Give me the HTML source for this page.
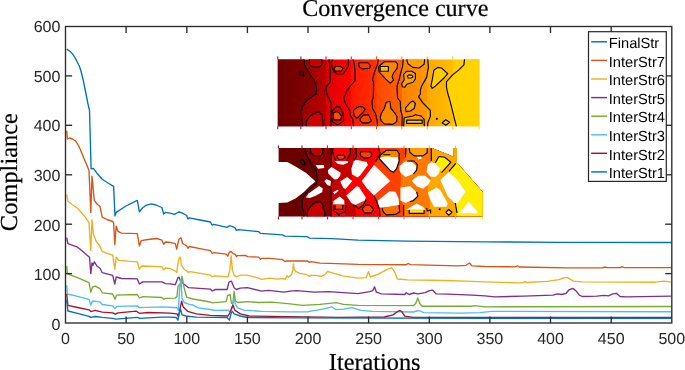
<!DOCTYPE html>
<html lang="en">
<head>
<meta charset="utf-8">
<title>Convergence curve</title>
<style>
html,body{margin:0;padding:0;background:#fff;}
body{width:685px;height:370px;overflow:hidden;position:relative;}
svg{position:absolute;left:0;top:0;display:block;will-change:transform;text-rendering:geometricPrecision;}
.tk{font-family:"Liberation Sans",Arial,Helvetica,sans-serif;font-size:16px;fill:#262626;}
.lg{font-family:"Liberation Sans",Arial,Helvetica,sans-serif;font-size:14.65px;fill:#000;}
.ti{font-family:"Liberation Serif","Times New Roman",Times,serif;font-size:24.1px;fill:#000;stroke:#000;stroke-width:0.2;}
.cv{fill:none;stroke-linejoin:round;stroke-linecap:butt;}
.ct{fill:none;stroke:#000;stroke-width:1.15;stroke-linejoin:round;}
</style>
</head>
<body>
<svg width="685" height="370" viewBox="0 0 685 370">
<rect x="0" y="0" width="685" height="370" fill="#ffffff"/>
<defs><linearGradient id="g1" x1="0" y1="0" x2="1" y2="0">
<stop offset="0.000" stop-color="#6e0000"/>
<stop offset="0.061" stop-color="#740000"/>
<stop offset="0.110" stop-color="#820000"/>
<stop offset="0.130" stop-color="#9e0000"/>
<stop offset="0.189" stop-color="#ac0000"/>
<stop offset="0.239" stop-color="#ba0000"/>
<stop offset="0.240" stop-color="#d80000"/>
<stop offset="0.299" stop-color="#f00000"/>
<stop offset="0.364" stop-color="#ff0000"/>
<stop offset="0.365" stop-color="#ff1400"/>
<stop offset="0.489" stop-color="#ff3400"/>
<stop offset="0.490" stop-color="#ff4600"/>
<stop offset="0.615" stop-color="#ff6400"/>
<stop offset="0.616" stop-color="#ff8000"/>
<stop offset="0.741" stop-color="#ff9800"/>
<stop offset="0.742" stop-color="#ffa800"/>
<stop offset="0.868" stop-color="#ffbe00"/>
<stop offset="0.869" stop-color="#ffcc00"/>
<stop offset="0.934" stop-color="#ffd200"/>
<stop offset="1.000" stop-color="#ffd500"/>
</linearGradient>
<linearGradient id="g1v" x1="0" y1="0" x2="1" y2="1"><stop offset="0" stop-color="#ffffff" stop-opacity="0.05"/><stop offset="1" stop-color="#000000" stop-opacity="0.06"/></linearGradient>
</defs>
<rect x="277.8" y="59.5" width="201.6" height="66.8" fill="url(#g1)"/>
<defs><linearGradient id="g1a" gradientUnits="userSpaceOnUse" x1="277.8" y1="0" x2="318" y2="0"><stop offset="0" stop-color="#6e0000"/><stop offset="0.5" stop-color="#7a0000"/><stop offset="1" stop-color="#880000"/></linearGradient></defs>
<polygon fill="url(#g1a)" points="277.8,59.5 304.0,59.5 304.7,65.3 307.4,70.1 310.7,75.5 313.9,79.9 316.1,84.2 316.6,90.7 316.0,94.1 310.9,97.2 305.8,101.3 302.7,106.4 301.2,111.6 301.7,119.8 302.7,126.3 277.8,126.3"/>
<polygon fill="#ffd200" points="464.5,59.3 463.9,64.9 458.9,69.9 452.7,74.9 446.5,81.7 446.5,87.3 447.7,93.0 450.2,101.7 452.7,111.6 454.5,119.1 456.4,126.3 479.4,126.3 479.4,59.3"/>
<line x1="277.8" y1="56.4" x2="277.8" y2="59.5" stroke="#a00000" stroke-width="1"/>
<line x1="277.8" y1="126.1" x2="277.8" y2="129.2" stroke="#a00000" stroke-width="1"/>
<line x1="300.9" y1="56.4" x2="300.9" y2="59.5" stroke="#b00000" stroke-width="1"/>
<line x1="300.9" y1="126.1" x2="300.9" y2="129.2" stroke="#b00000" stroke-width="1"/>
<line x1="326.0" y1="56.4" x2="326.0" y2="59.5" stroke="#d00000" stroke-width="1"/>
<line x1="326.0" y1="126.1" x2="326.0" y2="129.2" stroke="#d00000" stroke-width="1"/>
<line x1="351.3" y1="56.4" x2="351.3" y2="59.5" stroke="#ff1000" stroke-width="1"/>
<line x1="351.3" y1="126.1" x2="351.3" y2="129.2" stroke="#ff1000" stroke-width="1"/>
<line x1="376.5" y1="56.4" x2="376.5" y2="59.5" stroke="#ff4800" stroke-width="1"/>
<line x1="376.5" y1="126.1" x2="376.5" y2="129.2" stroke="#ff4800" stroke-width="1"/>
<line x1="401.8" y1="56.4" x2="401.8" y2="59.5" stroke="#ff8000" stroke-width="1"/>
<line x1="401.8" y1="126.1" x2="401.8" y2="129.2" stroke="#ff8000" stroke-width="1"/>
<line x1="427.2" y1="56.4" x2="427.2" y2="59.5" stroke="#ffa800" stroke-width="1"/>
<line x1="427.2" y1="126.1" x2="427.2" y2="129.2" stroke="#ffa800" stroke-width="1"/>
<line x1="452.8" y1="56.4" x2="452.8" y2="59.5" stroke="#ffc800" stroke-width="1"/>
<line x1="452.8" y1="126.1" x2="452.8" y2="129.2" stroke="#ffc800" stroke-width="1"/>
<line x1="479.0" y1="126.1" x2="479.0" y2="129.2" stroke="#ffd800" stroke-width="1"/>
<polyline class="ct" style="fill:#c80000" points="309.4,59.3 309.6,65.3 312.9,67.1 319.3,67.1 321.7,64.7 322.0,59.3"/>
<polyline class="ct" style="fill:#cc0000" points="306.3,126.3 306.3,120.8 309.9,116.2 314.0,113.6 319.1,111.6 321.7,114.6 322.7,120.8 323.2,126.3"/>
<polyline class="ct" style="fill:none" points="332.3,59.3 331.2,63.7 332.3,68.0 334.0,71.8 337.2,74.0 343.2,74.0 346.3,69.4 348.3,65.3 348.3,59.3"/>
<polyline class="ct" style="fill:#ffa000" points="406.7,59.3 407.9,63.7 412.9,67.4 419.1,68.0 424.1,64.3 424.7,59.3"/>
<polyline class="ct" style="fill:#ffa000" points="403.6,126.3 404.2,117.8 412.9,116.0 415.4,114.7 421.0,116.0 424.1,119.1 424.3,126.3"/>
<polygon class="ct" style="fill:#ff4800" points="334.3,67.5 336.0,66.5 340.1,66.5 343.2,68.3 341.2,70.9 336.0,71.2 334.3,70.0"/>
<polygon class="ct" style="fill:#ff5000" points="333.5,113.1 336.6,111.6 339.2,113.1 341.5,116.2 340.7,119.8 334.0,119.8 333.3,115.7"/>
<polygon class="ct" style="fill:#ff3c00" points="358.6,63.2 359.6,62.7 367.8,62.7 370.4,65.3 369.4,68.3 362.7,68.9 359.1,66.8"/>
<polygon class="ct" style="fill:#ff3800" points="354.0,109.5 359.1,106.4 362.7,106.9 365.3,109.5 362.7,112.6 357.1,118.2 354.0,115.7 353.5,111.6"/>
<polygon class="ct" style="fill:#ff4400" points="360.1,118.7 363.7,115.1 368.4,114.6 370.4,118.7 371.4,120.8 368.9,122.8 362.2,122.8 360.1,120.3"/>
<polygon class="ct" style="fill:#ff8400" points="379.1,66.3 384.3,61.7 395.6,61.7 397.6,64.2 397.1,68.3 393.5,73.0 392.0,76.6 393.5,80.1 390.4,83.2 386.3,79.6 379.1,71.9 378.6,68.3"/>
<polygon class="ct" style="fill:#ffc400" points="380.2,66.5 388.4,66.5 388.4,71.2 380.2,71.2"/>
<polygon class="ct" style="fill:#ff8400" points="380.2,117.7 381.2,113.6 384.3,108.5 386.3,102.3 389.9,101.3 390.9,108.5 394.5,112.6 397.1,116.7 396.6,121.8 392.5,124.4 384.3,123.9 381.2,120.8"/>
<polygon class="ct" style="fill:#ffa200" points="402.3,86.7 401.7,83.6 404.2,79.9 403.6,74.3 406.7,71.2 411.7,71.2 415.4,73.6 415.4,79.2 412.9,82.3 406.7,84.2 404.8,87.3"/>
<polygon class="ct" style="fill:#ffd400" points="407.3,76.0 409.0,74.9 412.0,75.2 412.9,77.0 411.0,78.0 408.2,78.0"/>
<polygon class="ct" style="fill:#ffa200" points="405.5,107.9 410.4,102.3 412.9,101.0 415.4,103.5 414.2,108.5 410.4,111.0 406.1,111.6"/>
<polygon class="ct" style="fill:#ffd000" points="406.7,120.1 422.2,120.1 422.2,123.4 406.7,123.4"/>
<polygon class="ct" style="fill:#ffcc00" points="430.9,86.1 432.2,79.9 434.0,69.9 437.8,67.4 441.5,68.0 447.7,73.6 444.0,78.0 435.3,86.1 432.2,88.3"/>
<polygon class="ct" style="fill:#ffd000" points="442.1,122.8 445.8,119.7 449.6,122.2 445.8,125.3"/>
<polygon class="ct" style="fill:none" points="299.3,72.3 301.0,71.2 302.6,72.3 303.7,74.5 304.2,75.5 302.0,75.8 300.4,75.0 299.3,73.4"/>
<polygon class="ct" style="fill:none" points="332.5,110.5 336.6,106.4 339.7,106.9 342.7,112.6 343.8,120.8 337.6,124.9 332.5,121.8 331.4,115.7"/>
<polyline class="ct" points="304.0,59.3 304.7,65.3 307.4,70.1 310.7,75.5 313.9,79.9 316.1,84.2 316.6,90.7 316.0,94.1 310.9,97.2 305.8,101.3 302.7,106.4 301.2,111.6 301.7,119.8 302.7,126.3"/>
<polyline class="ct" points="329.1,59.3 330.2,71.2 330.2,82.0 326.4,86.4 326.0,90.0 326.8,94.1 329.4,99.2 331.2,103.3 331.2,110.5 330.9,126.3"/>
<polyline class="ct" points="353.0,59.3 354.0,63.2 355.0,70.4 355.0,80.7 350.4,85.8 346.8,90.9 343.7,98.2 345.3,103.3 349.4,109.5 350.4,115.7 353.0,119.8 353.5,126.3"/>
<polyline class="ct" points="378.1,59.3 377.6,64.2 375.5,69.4 373.5,75.5 372.5,80.1 373.5,81.7 373.5,90.0 373.2,98.2 372.0,100.3 372.5,108.5 375.5,113.6 377.1,119.8 377.6,126.3"/>
<polyline class="ct" points="403.2,59.3 402.6,66.3 400.7,73.0 399.1,79.6 397.1,85.8 397.1,90.0 397.6,98.2 400.2,101.3 400.7,110.5 402.2,115.7 402.0,126.3"/>
<polyline class="ct" points="427.8,59.3 428.4,67.4 426.6,77.4 421.6,86.1 420.4,90.0 420.4,94.2 418.5,96.7 422.9,102.9 430.3,110.4 430.3,116.6 427.8,122.8 427.6,126.3"/>
<polyline class="ct" points="464.5,59.3 463.9,64.9 458.9,69.9 452.7,74.9 446.5,81.7 446.5,87.3 447.7,93.0 450.2,101.7 452.7,111.6 454.5,119.1 456.4,126.3"/>
<circle cx="436.8" cy="118.8" r="1.1" fill="#000"/>
<defs><clipPath id="c2"><polygon points="278.6,148.1 431.6,148.1 453.5,156.8 453.3,148.1 457.0,148.1 457.0,162.7 482.6,191.8 482.6,216.6 278.6,216.6 278.6,203.1 287.3,202.6 295.5,198.4 303.7,192.3 309.9,186.1 315.5,181.5 314.0,180.0 305.8,172.8 295.5,166.6 287.3,162.0 278.6,162.0"/></clipPath></defs>
<g clip-path="url(#c2)">
<rect x="278" y="148" width="206" height="69" fill="#6b0000"/>
<polygon fill="#8c0000" points="305.3,148.1 305.8,153.3 308.9,159.4 313.0,165.6 316.1,170.7 317.1,176.9 317.1,181.0 316.1,184.1 310.9,188.2 305.8,193.3 302.2,199.5 302.2,206.7 303.7,211.8 303.7,216.6 484.0,216.6 484.0,148.1"/>
<polygon fill="#c20000" points="310.4,148.1 310.7,152.8 314.0,155.8 320.2,156.1 322.7,153.3 323.0,148.1"/>
<polygon fill="#c80000" points="307.3,216.6 307.6,210.3 310.9,206.1 315.0,202.6 320.2,201.5 322.7,204.6 323.2,208.7 324.8,211.8 324.8,216.6"/>
<polygon fill="#c40000" points="331.2,148.1 331.2,166.6 328.0,170.0 328.4,174.0 334.0,180.0 331.0,186.0 331.2,191.0 331.2,216.6 484.0,216.6 484.0,148.1"/>
<polygon fill="#ff0000" points="356.0,148.1 356.6,156.3 354.0,160.4 351.4,168.7 351.9,174.3 352.0,181.0 345.3,188.7 346.3,195.4 351.4,203.1 355.5,205.1 355.5,216.6 484.0,216.6 484.0,148.1"/>
<polygon fill="#ff0000" points="331.2,148.1 348.9,148.1 350.4,153.3 348.9,156.3 347.3,161.0 334.5,161.0 331.2,163.0"/>
<polygon fill="#ff0000" points="331.2,199.0 333.5,201.0 333.0,204.3 344.5,204.6 345.3,204.6 345.3,216.6 331.2,216.6"/>
<polygon fill="#ff4000" points="378.6,148.1 380.2,153.3 376.0,161.5 374.0,165.1 383.0,173.8 390.4,181.0 383.0,188.5 374.0,195.8 377.0,202.0 379.5,209.0 380.0,216.6 484.0,216.6 484.0,148.1"/>
<polygon fill="#ff7800" points="406.0,148.1 405.5,157.2 401.0,164.0 399.5,170.0 401.0,176.0 400.5,187.5 400.5,200.5 403.6,204.9 403.6,216.6 484.0,216.6 484.0,148.1"/>
<polygon fill="#ffa800" points="431.3,148.1 431.3,160.9 427.8,164.6 426.6,172.1 430.3,176.4 430.9,180.8 427.8,185.0 427.8,192.4 430.3,199.9 430.0,206.0 428.0,216.6 484.0,216.6 484.0,148.1"/>
<polygon fill="#ffee00" points="457.0,162.7 455.8,163.4 449.0,171.6 457.7,180.0 465.7,191.8 457.7,203.0 455.2,203.0 456.4,209.2 457.0,216.6 484.0,216.6 484.0,190.0 482.6,191.8"/>
<polygon fill="#ff4000" points="336.5,156.3 338.0,155.3 343.7,155.3 345.3,156.9 342.7,159.4 339.1,159.4"/>
<polygon fill="#ff4000" points="335.0,205.1 342.7,205.1 342.7,209.2 335.0,209.2"/>
<polygon fill="#ff4000" points="360.1,152.8 361.7,151.7 369.9,151.7 371.9,154.3 370.4,157.4 364.8,158.2 360.7,155.8"/>
<polygon fill="#ff3000" points="356.0,206.1 364.8,201.0 366.3,200.0 362.7,205.6 358.6,208.2"/>
<polygon fill="#ff4000" points="362.2,208.7 365.8,205.1 369.9,205.1 373.5,209.7 371.4,212.8 364.3,212.8"/>
<polygon fill="#ff8000" points="380.2,155.3 386.3,150.2 396.6,150.2 399.1,153.3 399.1,161.0 397.6,156.9 381.7,156.9"/>
<polygon fill="#ffd000" points="383.2,154.8 390.4,154.8 390.4,156.9 383.2,156.9"/>
<polygon fill="#ff7000" points="382.2,208.2 388.4,206.7 399.1,205.1 399.7,211.8 395.6,214.4 386.3,214.9 383.2,211.8"/>
<polygon fill="#ffa000" points="409.2,148.1 409.8,152.2 414.2,155.9 422.9,155.9 427.2,152.8 427.2,148.1"/>
<polygon fill="#ffee00" points="409.2,210.2 424.1,210.2 424.1,213.3 409.2,213.3"/>
<polygon fill="#ffee00" points="435.3,162.7 439.0,156.5 444.6,157.2 450.8,162.1 447.7,165.9 441.5,172.7 439.6,167.7"/>
<polygon fill="#ffee00" points="445.7,212.3 448.7,209.5 452.0,212.3 448.7,215.2"/>
<polygon fill="#ffffff" points="315.5,165.1 323.8,165.1 324.3,168.1 318.1,168.7"/>
<polygon fill="#ffffff" points="327.9,170.2 331.5,167.1 340.7,172.8 340.1,175.8 337.6,178.9 334.5,179.4 328.4,173.8"/>
<polygon fill="#ffffff" points="305.8,197.4 308.9,193.3 319.1,186.1 322.7,188.2 322.2,192.3 316.1,195.4 309.9,197.9"/>
<polygon fill="#ffffff" points="324.3,181.0 326.5,179.3 331.0,181.0 330.4,186.1 327.3,185.1"/>
<polygon fill="#ffffff" points="333.0,192.3 337.6,189.7 338.6,190.8 334.5,194.3"/>
<polygon fill="#ffffff" points="334.5,161.0 347.3,161.0 348.3,162.5 343.2,164.8 338.0,164.0"/>
<polygon fill="#ffffff" points="333.0,204.3 333.5,201.0 339.7,196.4 344.2,200.3 344.5,204.6"/>
<polygon fill="#ffffff" points="354.0,160.4 357.1,159.9 366.8,162.0 367.8,165.1 360.7,174.8 357.6,177.4 351.9,174.3 351.4,168.7"/>
<polygon fill="#ffffff" points="347.0,176.9 352.3,181.0 345.5,189.0 343.4,188.0 340.2,181.5"/>
<polygon fill="#ffffff" points="374.0,165.1 383.2,173.8 390.4,181.0 381.2,189.2 374.0,195.6 366.8,188.2 361.7,181.0"/>
<polygon fill="#ffffff" points="379.1,158.4 381.7,156.9 397.6,156.9 399.1,161.0 396.6,168.7 393.5,172.3 390.4,170.7 383.2,163.0"/>
<polygon fill="#ffffff" points="346.3,195.4 357.1,186.1 359.1,187.2 365.8,197.4 364.8,200.5 355.5,205.1 351.4,203.1"/>
<polygon fill="#ffffff" points="377.1,203.1 378.1,200.5 389.4,191.3 395.6,191.8 398.6,198.4 399.1,205.1 388.4,206.7 379.1,207.7"/>
<polygon fill="#ffffff" points="399.5,166.0 405.5,161.5 411.7,162.1 416.6,165.9 416.6,170.2 412.9,173.9 405.5,177.0 401.0,173.3 399.5,170.0"/>
<polygon fill="#ffffff" points="416.6,156.5 421.0,155.9 421.6,158.4 418.5,159.6"/>
<polygon fill="#ffffff" points="427.8,164.6 431.6,162.1 435.3,163.4 440.3,168.3 439.0,173.3 435.3,177.0 430.3,176.4 426.6,172.1"/>
<polygon fill="#ffffff" points="411.7,180.8 417.9,175.8 425.3,175.8 430.9,180.8 427.8,185.0 422.9,188.7 416.6,186.2"/>
<polygon fill="#ffffff" points="449.0,172.0 457.7,180.0 465.7,191.8 457.7,203.0 454.5,203.0 447.7,196.2 440.3,180.0"/>
<polygon fill="#ffffff" points="427.8,192.4 436.5,187.5 440.3,189.9 447.7,203.6 446.5,206.7 434.0,206.7 430.3,199.9"/>
<polygon fill="#ffffff" points="400.5,187.5 410.4,186.2 416.6,192.4 417.3,196.2 412.9,199.9 405.5,203.0 400.5,200.5"/>
<polygon fill="#ffffff" points="406.1,209.8 416.6,203.6 422.9,206.7 425.3,209.8"/>
<polygon fill="#ffffff" points="468.8,201.7 477.5,211.7 477.5,213.3 458.9,213.2"/>
</g>
<line x1="278.4" y1="145.4" x2="278.4" y2="148.3" stroke="#8b0000" stroke-width="1"/>
<line x1="278.4" y1="216.4" x2="278.4" y2="219.4" stroke="#8b0000" stroke-width="1"/>
<line x1="302.0" y1="145.4" x2="302.0" y2="148.3" stroke="#a00000" stroke-width="1"/>
<line x1="302.0" y1="216.4" x2="302.0" y2="219.4" stroke="#a00000" stroke-width="1"/>
<line x1="327.4" y1="145.4" x2="327.4" y2="148.3" stroke="#d00000" stroke-width="1"/>
<line x1="327.4" y1="216.4" x2="327.4" y2="219.4" stroke="#d00000" stroke-width="1"/>
<line x1="353.0" y1="145.4" x2="353.0" y2="148.3" stroke="#ff1000" stroke-width="1"/>
<line x1="353.0" y1="216.4" x2="353.0" y2="219.4" stroke="#ff1000" stroke-width="1"/>
<line x1="378.5" y1="145.4" x2="378.5" y2="148.3" stroke="#ff4000" stroke-width="1"/>
<line x1="378.5" y1="216.4" x2="378.5" y2="219.4" stroke="#ff4000" stroke-width="1"/>
<line x1="404.0" y1="145.4" x2="404.0" y2="148.3" stroke="#ff7800" stroke-width="1"/>
<line x1="404.0" y1="216.4" x2="404.0" y2="219.4" stroke="#ff7800" stroke-width="1"/>
<line x1="429.7" y1="145.4" x2="429.7" y2="148.3" stroke="#ffa000" stroke-width="1"/>
<line x1="429.7" y1="216.4" x2="429.7" y2="219.4" stroke="#ffa000" stroke-width="1"/>
<line x1="455.5" y1="145.4" x2="455.5" y2="148.3" stroke="#ffd000" stroke-width="1"/>
<line x1="455.5" y1="216.4" x2="455.5" y2="219.4" stroke="#ffd000" stroke-width="1"/>
<line x1="482.3" y1="216.4" x2="482.3" y2="219.4" stroke="#ffe800" stroke-width="1"/>
<polyline class="ct" points="305.3,148.1 305.8,153.3 308.9,159.4 313.0,165.6 316.1,170.7 317.1,176.9 317.1,181.0 316.1,184.1 310.9,188.2 305.8,193.3 302.2,199.5 302.2,206.7 303.7,211.8 303.7,216.6"/>
<polyline class="ct" points="310.4,148.1 310.7,152.8 314.0,155.8 320.2,156.1 322.7,153.3 323.0,148.1"/>
<polyline class="ct" points="300.1,161.0 302.2,159.9 304.3,161.5 305.3,164.0 303.7,165.1 301.2,163.5 300.1,161.0"/>
<polyline class="ct" points="307.3,216.4 307.6,210.3 310.9,206.1 315.0,202.6 320.2,201.5 322.7,204.6 323.2,208.7 324.8,211.8 324.8,216.4"/>
<polyline class="ct" points="331.2,148.1 331.2,166.6"/>
<polyline class="ct" points="331.2,187.0 331.2,216.4"/>
<polyline class="ct" points="336.5,156.3 338.0,155.3 343.7,155.3 345.3,156.9 342.7,159.4 339.1,159.4 336.5,156.3"/>
<polyline class="ct" points="333.0,148.1 332.5,152.0 334.0,157.0 336.0,160.5"/>
<polyline class="ct" points="350.4,148.1 350.4,153.3 348.9,156.3 346.5,160.5"/>
<polyline class="ct" points="356.0,148.1 356.6,156.3 354.0,160.4"/>
<polyline class="ct" points="333.5,205.0 333.5,211.0 338.0,213.8 339.0,215.5 340.1,213.6 345.3,211.8 345.8,205.0"/>
<polyline class="ct" points="335.0,205.1 335.0,209.2 342.7,209.2 342.7,205.1"/>
<polyline class="ct" points="360.1,152.8 361.7,151.7 369.9,151.7 371.9,154.3 370.4,157.4 364.8,158.2 360.7,155.8 360.1,152.8"/>
<polyline class="ct" points="353.0,205.5 356.0,206.1 358.6,208.2 362.7,205.6 366.3,200.0"/>
<polyline class="ct" points="362.2,208.7 365.8,205.1 369.9,205.1 373.5,209.7 371.4,212.8 364.3,212.8 362.2,208.7"/>
<polyline class="ct" points="378.6,148.1 380.2,153.3 376.0,161.5"/>
<polyline class="ct" points="374.0,196.0 377.0,202.0 379.5,209.0 380.0,216.4"/>
<polyline class="ct" points="379.1,158.4 380.2,155.3 386.3,150.2 396.6,150.2 399.1,153.3 399.1,161.0 396.6,168.7 393.5,172.3 390.4,170.7 383.2,163.0 379.1,158.4"/>
<polyline class="ct" points="383.2,154.8 390.4,154.8"/>
<polyline class="ct" points="382.2,208.2 383.2,211.8 386.3,214.9 395.6,214.4 399.7,211.8 399.1,205.1"/>
<polyline class="ct" points="406.0,148.1 405.5,157.2"/>
<polyline class="ct" points="403.6,204.9 403.6,216.0"/>
<polyline class="ct" points="409.2,148.2 409.8,152.2 414.2,155.9 422.9,155.9 427.2,152.8 427.2,148.2"/>
<polyline class="ct" points="407.3,161.0 414.2,161.0 417.3,164.7 416.6,170.2 413.5,173.9"/>
<polyline class="ct" points="416.6,191.8 417.9,196.2 413.5,200.5 409.8,201.7"/>
<polyline class="ct" points="431.3,148.2 431.3,160.9"/>
<polyline class="ct" points="426.8,208.0 427.2,211.0 430.6,210.0 430.6,213.6"/>
<polyline class="ct" points="409.2,210.0 409.2,213.3 424.1,213.3 424.1,210.0"/>
<polyline class="ct" points="435.3,162.7 439.0,156.5 444.6,157.2 450.8,162.1 447.7,165.9 441.5,172.7"/>
<polyline class="ct" points="455.8,163.4 449.0,171.4"/>
<polyline class="ct" points="445.7,212.3 448.7,209.5 452.0,212.3 448.7,215.2 445.7,212.3"/>
<polyline class="ct" points="455.2,203.0 456.4,209.2 457.0,213.0"/>
<circle cx="439.6" cy="209.2" r="1.0" fill="#000"/>
<g class="cv" stroke-width="1.35">
<polyline stroke="#0072BD" points="66.7,49.2 68.5,50.3 70.5,51.7 72.5,53.9 74.5,56.8 76.3,60.1 78.0,63.5 79.3,66.0 80.5,69.5 82.0,75.0 83.5,81.5 85.0,89.0 86.5,96.5 88.0,104.0 89.5,110.5 90.2,135.0 91.1,168.8 93.4,168.4 96.9,173.2 102.2,179.3 108.0,183.0 113.6,186.4 115.0,215.9 116.2,212.4 126.0,206.0 137.3,200.4 139.4,211.8 142.5,208.0 146.1,205.3 151.4,203.9 156.0,205.0 161.9,207.5 163.7,214.1 165.4,212.4 170.0,213.2 174.4,214.3 178.8,212.0 182.0,212.8 186.7,215.5 187.9,219.0 189.3,217.8 200.0,220.0 210.4,222.0 212.2,225.1 213.9,224.3 227.1,227.3 229.4,225.7 232.0,226.3 235.0,227.8 236.4,230.4 238.5,229.7 258.8,231.7 260.5,233.4 282.5,234.8 285.1,236.2 306.9,236.7 309.8,238.1 331.7,238.7 358.0,240.2 407.6,241.1 485.0,241.9 560.0,242.3 671.5,242.5"/>
<polyline stroke="#D95319" points="66.7,130.8 67.4,139.0 69.7,138.0 72.5,139.0 75.8,141.3 78.5,145.5 81.0,151.0 83.0,156.0 84.6,160.0 86.4,164.0 89.0,170.5 90.8,212.4 92.0,176.2 94.3,200.4 97.0,204.0 100.0,206.6 102.2,217.1 107.0,219.5 112.7,221.5 113.6,222.6 114.8,244.6 116.2,226.2 118.0,231.4 121.5,233.2 137.3,233.7 139.4,246.0 141.2,240.7 148.0,239.5 156.7,238.5 161.9,240.2 163.7,244.3 165.4,242.0 170.0,242.4 175.3,243.7 176.7,249.2 178.8,239.3 180.9,237.7 182.7,243.5 186.7,246.0 187.9,248.2 189.3,246.5 200.0,248.6 210.4,250.7 212.2,253.5 213.9,252.7 226.1,254.2 227.7,256.2 229.2,252.3 230.9,251.4 233.1,253.6 235.3,254.4 236.5,256.6 237.5,255.6 245.4,255.3 247.6,256.6 258.5,257.1 260.5,259.3 261.6,258.4 269.9,258.4 280.0,259.4 282.3,259.4 284.9,261.6 286.6,261.0 307.7,261.0 309.4,262.4 311.2,261.6 319.9,263.1 330.0,263.3 358.0,264.4 406.2,264.7 408.2,263.5 410.5,264.7 457.3,265.9 466.0,265.3 469.5,263.0 471.9,265.9 485.0,266.5 515.0,266.8 517.4,265.9 519.4,267.0 567.6,267.9 602.6,267.9 605.0,267.0 607.0,267.6 620.1,267.6 622.2,266.8 624.5,267.6 671.5,267.6"/>
<polyline stroke="#EDB120" points="66.7,194.3 67.9,201.3 72.0,204.5 77.6,208.3 84.6,216.2 89.0,222.6 90.8,250.8 92.0,219.8 93.4,234.0 96.0,241.0 100.0,246.4 102.2,251.3 107.0,253.3 112.7,255.0 114.8,269.2 116.2,257.3 118.9,260.4 128.0,261.2 137.3,261.8 139.4,269.2 141.7,266.0 161.9,266.6 163.7,270.0 165.4,268.0 170.0,268.4 175.3,271.0 176.7,272.4 178.8,258.7 180.2,257.0 181.4,264.9 184.1,269.3 186.7,271.0 188.5,272.4 190.2,271.6 210.4,275.1 212.2,276.8 214.8,275.8 228.0,276.8 229.8,270.1 231.2,255.7 232.4,270.1 234.1,275.1 236.4,276.8 240.3,275.1 247.3,275.1 258.8,278.1 261.4,279.3 270.0,278.2 277.0,279.1 283.1,278.5 285.3,279.3 287.1,275.6 288.4,277.3 291.5,274.7 292.8,269.9 293.4,263.8 294.1,269.0 295.4,271.2 299.8,273.4 306.8,274.7 309.4,276.5 310.7,275.3 316.4,275.3 321.2,276.5 325.2,274.3 327.4,271.5 330.0,272.1 333.2,273.2 343.4,276.1 358.0,278.1 366.2,277.6 368.5,271.7 370.3,277.0 378.4,274.1 387.2,269.4 391.6,267.9 394.5,271.7 397.4,279.0 407.6,279.9 445.6,280.5 471.9,281.4 485.0,281.9 518.0,282.8 523.8,282.5 525.3,281.4 526.7,282.5 547.2,281.4 558.8,279.6 564.7,277.6 567.6,277.6 573.4,281.1 582.2,281.9 655.2,282.2 663.9,281.1 671.5,282.2"/>
<polyline stroke="#7E2F8E" points="66.7,237.6 67.9,243.7 77.6,247.2 82.8,251.6 89.5,257.3 90.8,273.6 92.0,263.0 93.0,265.3 94.4,261.8 96.9,266.0 100.0,268.3 102.2,272.7 112.7,275.4 114.8,284.0 116.2,277.0 121.5,278.5 137.3,278.9 139.4,284.0 142.6,281.9 161.9,281.9 165.4,283.6 170.0,283.9 175.3,284.7 177.9,277.7 179.1,277.2 180.5,281.0 184.1,284.2 188.5,287.7 210.4,289.1 212.2,290.9 215.7,289.5 227.1,289.5 228.9,282.1 231.5,281.2 234.1,287.7 236.4,289.5 240.3,288.1 247.3,287.7 258.8,290.4 261.4,291.2 268.4,290.4 284.2,292.1 290.0,291.2 296.7,290.7 314.2,292.2 328.8,291.6 358.0,293.6 369.7,291.6 372.6,290.7 374.6,286.9 376.4,292.2 381.4,293.9 404.7,294.5 406.2,292.7 409.1,294.5 413.5,293.0 417.8,293.9 425.1,292.7 429.5,290.7 432.4,290.1 436.2,293.9 448.5,294.2 471.9,295.1 485.0,295.9 494.6,296.8 523.8,296.2 553.0,295.1 557.4,293.9 561.8,294.5 566.1,293.3 569.1,289.8 572.8,288.4 575.8,290.7 579.3,295.1 582.2,296.5 596.8,296.2 604.1,295.4 608.5,295.9 612.8,293.9 616.4,293.3 620.1,296.5 626.0,296.8 671.5,296.2"/>
<polyline stroke="#77AC30" points="66.7,265.9 67.4,273.8 77.6,277.7 89.0,282.6 90.8,292.2 92.5,287.0 95.1,286.1 100.0,288.7 102.2,292.8 112.7,294.0 115.0,299.3 116.6,295.2 137.3,294.5 139.4,298.0 142.6,296.6 161.9,297.5 163.7,299.3 165.4,298.4 175.3,298.1 177.0,296.4 177.9,286.7 179.7,284.0 180.5,285.0 182.0,276.2 184.1,287.6 186.7,297.2 192.8,299.0 210.4,302.0 212.2,302.9 226.2,301.6 227.6,295.5 230.1,294.6 231.5,303.4 232.9,303.0 234.1,291.4 235.4,300.8 237.7,302.5 247.3,301.6 258.8,302.5 271.9,302.2 290.0,303.9 302.5,305.3 320.0,304.4 331.7,303.2 336.1,302.7 343.4,304.4 358.0,305.3 413.5,305.6 415.8,303.2 417.8,298.0 419.9,303.8 422.2,306.2 471.9,306.2 474.8,305.6 485.0,306.8 671.5,306.5"/>
<polyline stroke="#4DBEEE" points="66.7,285.2 67.4,294.0 77.6,296.3 89.0,299.3 90.8,305.1 92.5,301.0 100.0,301.9 102.2,304.5 112.7,305.8 115.0,308.6 117.1,306.3 137.3,305.8 139.4,307.7 161.9,306.8 174.2,307.5 177.0,307.8 178.4,310.4 179.7,287.6 180.9,279.7 182.0,298.1 184.1,302.5 189.3,304.3 192.8,304.8 198.1,307.8 210.4,309.5 213.9,310.4 228.0,310.1 230.6,312.2 232.4,306.9 234.1,298.1 235.4,304.3 237.7,307.8 243.8,310.1 261.4,311.3 290.0,311.8 308.4,311.7 323.0,309.1 331.7,306.8 336.1,309.7 343.4,309.1 351.6,307.6 360.9,310.3 372.6,311.4 413.5,312.0 418.7,310.5 423.7,312.6 460.2,313.2 480.0,312.6 491.7,311.4 671.5,311.7"/>
<polyline stroke="#A2142F" points="66.7,294.0 67.9,305.4 77.6,307.5 89.0,309.8 90.8,311.6 95.1,310.3 102.2,312.1 112.7,312.8 115.4,314.2 118.0,312.8 136.4,311.2 139.4,313.3 147.9,312.5 170.0,313.1 177.0,313.9 178.4,316.6 179.7,310.4 181.6,301.3 183.2,306.9 187.6,311.3 196.4,313.9 210.4,315.3 228.0,316.0 229.8,313.1 232.9,305.1 235.0,310.4 240.3,313.9 249.1,316.0 290.0,316.6 340.0,317.3 384.3,317.0 393.0,314.9 397.4,311.7 399.7,310.5 401.8,311.7 404.7,316.1 413.5,317.3 485.0,317.4 671.5,317.5"/>
<polyline stroke="#0072BD" points="66.7,300.1 67.9,311.0 77.6,313.3 89.0,316.3 90.8,317.4 95.1,316.5 102.2,317.4 112.7,318.3 115.9,319.1 137.3,317.4 140.0,318.3 161.9,317.2 170.0,317.1 176.2,317.5 177.9,320.1 179.1,313.6 180.5,309.0 182.0,314.8 185.8,316.0 196.4,317.1 227.1,317.5 229.4,320.1 231.2,313.1 232.4,311.3 234.1,313.9 240.3,316.0 247.3,317.5 290.0,317.8 485.0,318.2 671.5,318.2"/>
</g>
<g stroke="#2c2c2c" stroke-width="1.35" fill="none">
<rect x="65.5" y="26.5" width="606.3" height="296.5"/>
<line x1="126.1" y1="323.0" x2="126.1" y2="316.4"/>
<line x1="126.1" y1="26.5" x2="126.1" y2="33.1"/>
<line x1="186.8" y1="323.0" x2="186.8" y2="316.4"/>
<line x1="186.8" y1="26.5" x2="186.8" y2="33.1"/>
<line x1="247.4" y1="323.0" x2="247.4" y2="316.4"/>
<line x1="247.4" y1="26.5" x2="247.4" y2="33.1"/>
<line x1="308.0" y1="323.0" x2="308.0" y2="316.4"/>
<line x1="308.0" y1="26.5" x2="308.0" y2="33.1"/>
<line x1="368.6" y1="323.0" x2="368.6" y2="316.4"/>
<line x1="368.6" y1="26.5" x2="368.6" y2="33.1"/>
<line x1="429.3" y1="323.0" x2="429.3" y2="316.4"/>
<line x1="429.3" y1="26.5" x2="429.3" y2="33.1"/>
<line x1="489.9" y1="323.0" x2="489.9" y2="316.4"/>
<line x1="489.9" y1="26.5" x2="489.9" y2="33.1"/>
<line x1="550.5" y1="323.0" x2="550.5" y2="316.4"/>
<line x1="550.5" y1="26.5" x2="550.5" y2="33.1"/>
<line x1="611.2" y1="323.0" x2="611.2" y2="316.4"/>
<line x1="611.2" y1="26.5" x2="611.2" y2="33.1"/>
<line x1="65.5" y1="273.6" x2="72.1" y2="273.6"/>
<line x1="671.8" y1="273.6" x2="665.2" y2="273.6"/>
<line x1="65.5" y1="224.2" x2="72.1" y2="224.2"/>
<line x1="671.8" y1="224.2" x2="665.2" y2="224.2"/>
<line x1="65.5" y1="174.8" x2="72.1" y2="174.8"/>
<line x1="671.8" y1="174.8" x2="665.2" y2="174.8"/>
<line x1="65.5" y1="125.3" x2="72.1" y2="125.3"/>
<line x1="671.8" y1="125.3" x2="665.2" y2="125.3"/>
<line x1="65.5" y1="75.9" x2="72.1" y2="75.9"/>
<line x1="671.8" y1="75.9" x2="665.2" y2="75.9"/>
</g>
<g class="tk">
<text x="65.5" y="344.4" text-anchor="middle">0</text>
<text x="126.1" y="344.4" text-anchor="middle">50</text>
<text x="186.8" y="344.4" text-anchor="middle">100</text>
<text x="247.4" y="344.4" text-anchor="middle">150</text>
<text x="308.0" y="344.4" text-anchor="middle">200</text>
<text x="368.6" y="344.4" text-anchor="middle">250</text>
<text x="429.3" y="344.4" text-anchor="middle">300</text>
<text x="489.9" y="344.4" text-anchor="middle">350</text>
<text x="550.5" y="344.4" text-anchor="middle">400</text>
<text x="611.2" y="344.4" text-anchor="middle">450</text>
<text x="671.8" y="344.4" text-anchor="middle">500</text>
<text x="60.4" y="329.9" text-anchor="end">0</text>
<text x="60.4" y="280.3" text-anchor="end">100</text>
<text x="60.4" y="230.7" text-anchor="end">200</text>
<text x="60.4" y="181.0" text-anchor="end">300</text>
<text x="60.4" y="131.4" text-anchor="end">400</text>
<text x="60.4" y="81.8" text-anchor="end">500</text>
<text x="60.4" y="32.2" text-anchor="end">600</text>
</g>
<text class="ti" x="395.3" y="15.9" text-anchor="middle">Convergence curve</text>
<text class="ti" style="font-size:24.3px" x="374.7" y="369.6" text-anchor="middle">Iterations</text>
<text class="ti" style="font-size:24.45px" transform="translate(16.5,172.1) rotate(-90)" text-anchor="middle">Compliance</text>
<rect x="588.5" y="31.7" width="77.8" height="149.7" fill="#fff" stroke="#262626" stroke-width="1.2"/>
<line x1="591.2" y1="41.8" x2="607" y2="41.8" stroke="#0072BD" stroke-width="1.45"/>
<text class="lg" x="608.8" y="48.0">FinalStr</text>
<line x1="591.2" y1="60.4" x2="607" y2="60.4" stroke="#D95319" stroke-width="1.45"/>
<text class="lg" x="608.8" y="66.6">InterStr7</text>
<line x1="591.2" y1="79.0" x2="607" y2="79.0" stroke="#EDB120" stroke-width="1.45"/>
<text class="lg" x="608.8" y="85.2">InterStr6</text>
<line x1="591.2" y1="97.6" x2="607" y2="97.6" stroke="#7E2F8E" stroke-width="1.45"/>
<text class="lg" x="608.8" y="103.8">InterStr5</text>
<line x1="591.2" y1="116.2" x2="607" y2="116.2" stroke="#77AC30" stroke-width="1.45"/>
<text class="lg" x="608.8" y="122.4">InterStr4</text>
<line x1="591.2" y1="134.8" x2="607" y2="134.8" stroke="#4DBEEE" stroke-width="1.45"/>
<text class="lg" x="608.8" y="140.9">InterStr3</text>
<line x1="591.2" y1="153.3" x2="607" y2="153.3" stroke="#A2142F" stroke-width="1.45"/>
<text class="lg" x="608.8" y="159.5">InterStr2</text>
<line x1="591.2" y1="171.9" x2="607" y2="171.9" stroke="#0072BD" stroke-width="1.45"/>
<text class="lg" x="608.8" y="178.1">InterStr1</text>
</svg>
</body>
</html>
